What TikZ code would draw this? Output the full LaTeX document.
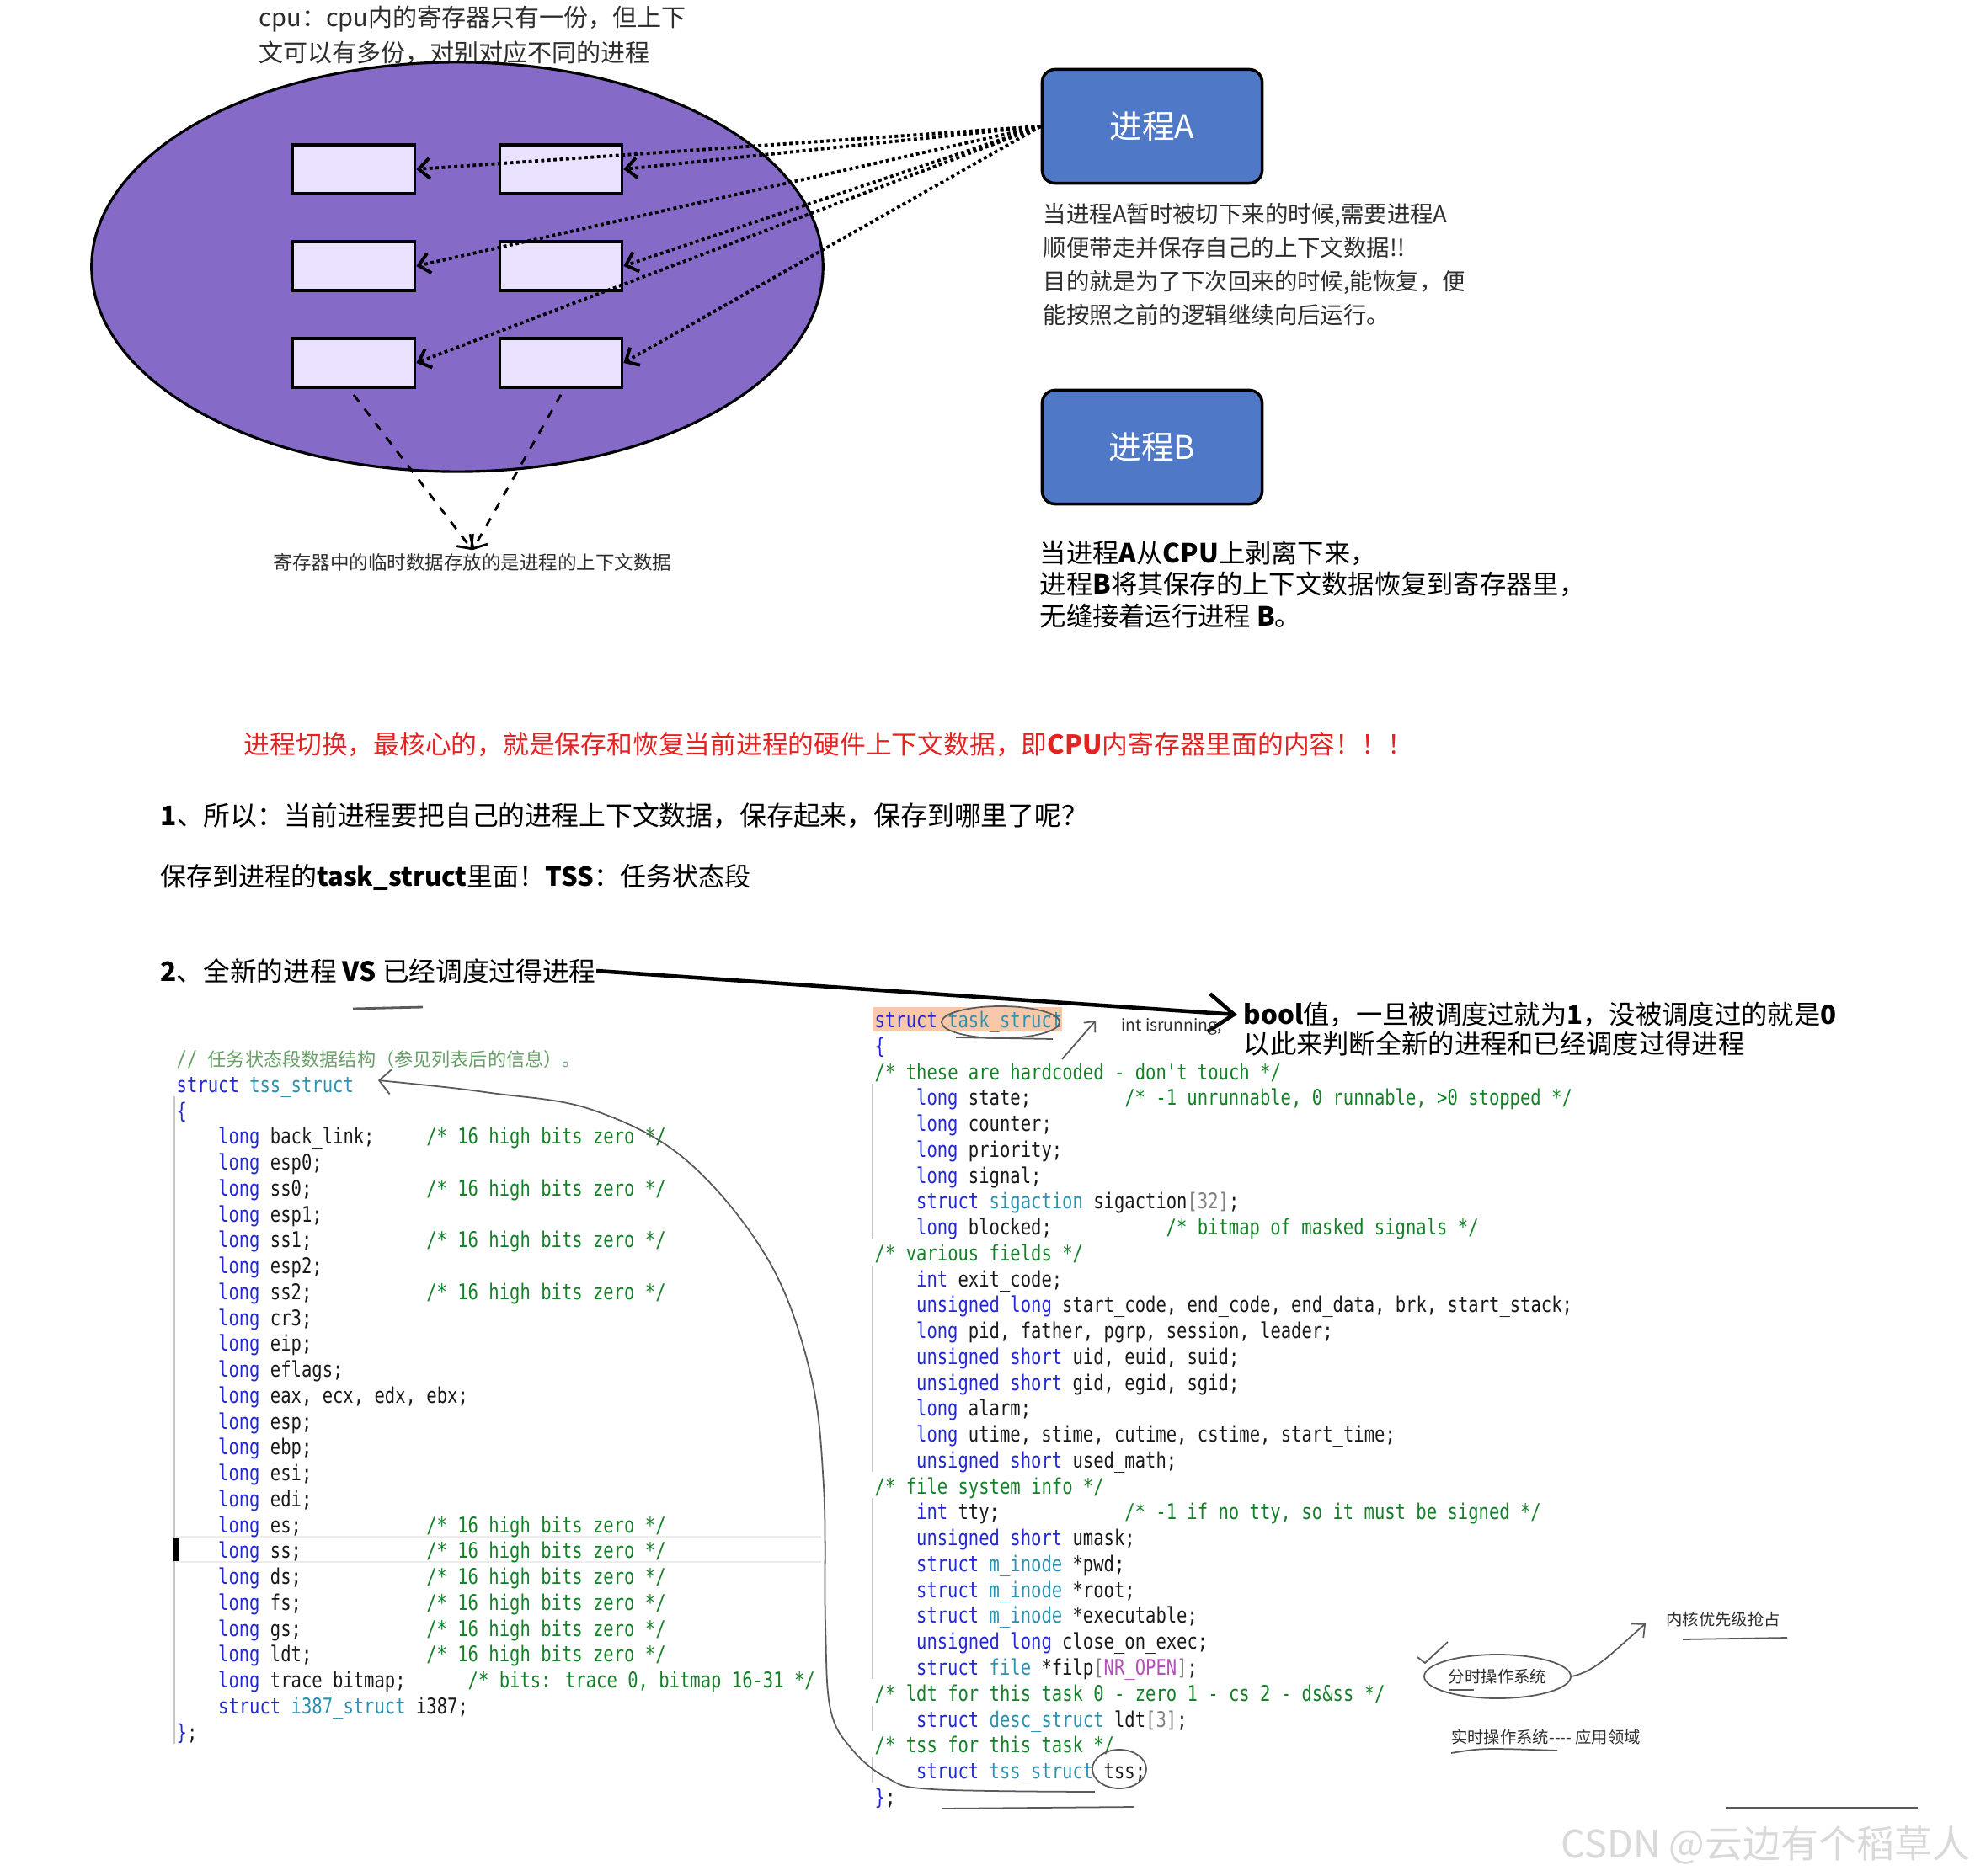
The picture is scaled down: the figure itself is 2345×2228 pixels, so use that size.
\documentclass[tikz,border=0pt]{standalone}
\usepackage{fontspec}
\setmainfont{Noto Sans CJK SC}
\newfontfamily\codefont[FakeStretch=0.8,Ligatures=TeXOff]{DejaVu Sans Mono}
\newfontfamily\cjkcode{Noto Sans CJK SC}
\usetikzlibrary{shapes.geometric}
\usetikzlibrary{arrows.meta}

\definecolor{cpuviolet}{RGB}{133,106,200}
\definecolor{regfill}{RGB}{233,225,255}
\definecolor{procblue}{RGB}{79,120,198}
\definecolor{alertred}{RGB}{228,34,34}
\definecolor{txtgray}{RGB}{45,45,45}
\definecolor{kwblue}{RGB}{35,40,215}
\definecolor{tyteal}{RGB}{43,145,175}
\definecolor{cmgreen}{RGB}{20,128,40}
\definecolor{cmlight}{RGB}{105,160,105}
\definecolor{brgray}{RGB}{130,130,130}
\definecolor{nrpink}{RGB}{180,80,185}
\definecolor{codetext}{RGB}{25,25,25}
\definecolor{hdpeach}{RGB}{248,200,170}
\definecolor{pencilgray}{RGB}{90,90,90}

\newlength\cw
\setlength\cw{0.1235cm}
\newcommand\kw[1]{\textcolor{kwblue}{#1}}
\newcommand\ty[1]{\textcolor{tyteal}{#1}}
\newcommand\cmt[1]{\textcolor{cmgreen}{#1}}
\newcommand\gy[1]{\textcolor{brgray}{#1}}
\newcommand\indt{\hspace*{4\cw}}
\newcommand\colto[2]{\makebox[#1\cw][l]{#2}}
\newcommand\hbz{\cmt{/* 16 high bits zero */}}

\begin{document}
\begin{tikzpicture}[x=0.01cm,y=0.01cm,
  reg/.style={rectangle,draw,line width=1pt,fill=regfill,minimum width=1.45cm,minimum height=0.58cm},
  proc/.style={rectangle,draw,line width=1pt,fill=procblue,rounded corners=.8ex,minimum width=2.61cm,minimum height=1.35cm,text=white,font=\fontsize{11}{13}\selectfont},
  save/.style={densely dotted,line width=1.1pt,-{Straight Barb[length=1.3mm,width=2.4mm]}},
  keep/.style={dashed,line width=0.8pt,-{Straight Barb[length=1.3mm,width=2.4mm]}},
  note/.style={anchor=west,align=left,inner sep=0pt},
  code/.style={anchor=west,inner sep=0pt,font=\codefont\fontsize{7.3}{8.75}\selectfont,text=codetext,text height=1.5ex,text depth=0.4ex},
  guide/.style={draw=gray!45,line width=0.4pt},
  pencil/.style={draw=pencilgray,line width=0.5pt},
  hand/.style={font=\fontsize{5.5}{6.5}\selectfont,text=txtgray,inner sep=1pt}
  ]

\path[use as bounding box,fill=white] (0,0) rectangle (2345,-2228);

% cpu and its registers
\node[note,font=\fontsize{8.25}{11.9}\selectfont,text=txtgray] (cpunote) at (307,-42) {cpu：cpu内的寄存器只有一份，但上下\\文可以有多份，对别对应不同的进程};
\node[ellipse,draw,line width=0.9pt,fill=cpuviolet,minimum width=8.68cm,minimum height=4.86cm,inner sep=0pt] (cpu) at (543,-317) {};

\node[reg] (r11) at (420,-201) {};
\node[reg] (r12) at (666,-201) {};
\node[reg] (r21) at (420,-316) {};
\node[reg] (r22) at (666,-316) {};
\node[reg] (r31) at (420,-431) {};
\node[reg] (r32) at (666,-431) {};

\node[proc] (pa) at (1368,-150) {进程A};
\node[proc] (pb) at (1368,-531) {进程B};

\foreach \r in {r11,r12,r21,r22,r31,r32}
  \draw[save] (pa.west) -- (\r.east);

\node[font=\fontsize{6.4}{7.5}\selectfont,text=txtgray,inner sep=1pt] (ctxlbl) at (561,-668) {寄存器中的临时数据存放的是进程的上下文数据};
\draw[keep] ([yshift=-2pt]r31.south) -- (ctxlbl.north);
\draw[keep] ([yshift=-2pt]r32.south) -- (ctxlbl.north);

% textual explanation
\node[note,font=\fontsize{7.8}{11.4}\selectfont,text=txtgray] (anote) at (1238,-314) {当进程A暂时被切下来的时候,需要进程A\\顺便带走并保存自己的上下文数据!!\\目的就是为了下次回来的时候,能恢复，便\\能按照之前的逻辑继续向后运行。};
\node[note,font=\fontsize{8.9}{10.6}\selectfont] (bnote) at (1234,-694) {当进程\textbf{A}从\textbf{CPU}上剥离下来，\\进程\textbf{B}将其保存的上下文数据恢复到寄存器里，\\无缝接着运行进程 \textbf{B}。};

\node[note,font=\fontsize{8.75}{11}\selectfont,text=alertred] (keypt) at (289,-884) {进程切换，最核心的，就是保存和恢复当前进程的硬件上下文数据，即\textbf{CPU}内寄存器里面的内容！！！};
\node[note,font=\fontsize{9.05}{11}\selectfont] (q1) at (190,-969) {\textbf{1}、所以：当前进程要把自己的进程上下文数据，保存起来，保存到哪里了呢？};
\node[note,font=\fontsize{8.8}{11}\selectfont] (q1b) at (190,-1042) {保存到进程的\textbf{task\_struct}里面！\textbf{TSS}：任务状态段};
\node[note,font=\fontsize{9}{11}\selectfont] (q2) at (190,-1153) {\textbf{2}、全新的进程 \textbf{VS} 已经调度过得进程};
\node[note,font=\fontsize{8.9}{11}\selectfont] (bool1) at (1476,-1205) {\textbf{bool}值，一旦被调度过就为\textbf{1}，没被调度过的就是\textbf{0}};
\node[note,font=\fontsize{8.9}{11}\selectfont] (bool2) at (1476,-1240) {以此来判断全新的进程和已经调度过得进程};
\draw[line width=1.3pt,-{Straight Barb[length=3mm,width=4.5mm]}] (q2.east) -- ([xshift=-2pt]bool1.west);
\draw[pencil,line width=0.8pt] (419,-1198) -- (502,-1196);

% tss_struct listing
\draw[guide] (207,-1302) -- (207,-2071);
\draw[draw=gray!15,line width=0.8pt] (209,-1825) -- (975,-1825) (209,-1855) -- (975,-1855);
\draw[line width=1.6pt] (209,-1826) -- (209,-1854);
\foreach \ln [count=\k from 0] in {
  {\textcolor{cmlight}{// {\cjkcode\fontsize{6.3}{8}\selectfont 任务状态段数据结构（参见列表后的信息）。}}},
  {\kw{struct} \ty{tss\_struct}},
  {\kw{\{}},
  {\colto{24}{\indt\kw{long} back\_link;}\hbz},
  {\indt\kw{long} esp0;},
  {\colto{24}{\indt\kw{long} ss0;}\hbz},
  {\indt\kw{long} esp1;},
  {\colto{24}{\indt\kw{long} ss1;}\hbz},
  {\indt\kw{long} esp2;},
  {\colto{24}{\indt\kw{long} ss2;}\hbz},
  {\indt\kw{long} cr3;},
  {\indt\kw{long} eip;},
  {\indt\kw{long} eflags;},
  {\indt\kw{long} eax, ecx, edx, ebx;},
  {\indt\kw{long} esp;},
  {\indt\kw{long} ebp;},
  {\indt\kw{long} esi;},
  {\indt\kw{long} edi;},
  {\colto{24}{\indt\kw{long} es;}\hbz},
  {\colto{24}{\indt\kw{long} ss;}\hbz},
  {\colto{24}{\indt\kw{long} ds;}\hbz},
  {\colto{24}{\indt\kw{long} fs;}\hbz},
  {\colto{24}{\indt\kw{long} gs;}\hbz},
  {\colto{24}{\indt\kw{long} ldt;}\hbz},
  {\colto{28}{\indt\kw{long} trace\_bitmap;}\cmt{/* bits: trace 0, bitmap 16-31 */}},
  {\indt\kw{struct} \ty{i387\_struct} i387;},
  {\kw{\}};}}
  \node[code] (tss-\k) at (209,{-1256-30.76*\k}) {\ln};

% task_struct listing
\fill[hdpeach] (1036,-1196) rectangle (1261,-1225);
\foreach \a/\b in {3/8,10/17,19/25,27/27,29/29}
  \draw[guide] (1036,{-1195-30.76*\a}) -- (1036,{-1225-30.76*\b});
\foreach \ln [count=\k from 0] in {
  {\kw{struct} \ty{task\_struct}},
  {\kw{\{}},
  {\cmt{/* these are hardcoded - don't touch */}},
  {\colto{24}{\indt\kw{long} state;}\cmt{/* -1 unrunnable, 0 runnable, >0 stopped */}},
  {\indt\kw{long} counter;},
  {\indt\kw{long} priority;},
  {\indt\kw{long} signal;},
  {\indt\kw{struct} \ty{sigaction} sigaction\gy{[32]};},
  {\colto{28}{\indt\kw{long} blocked;}\cmt{/* bitmap of masked signals */}},
  {\cmt{/* various fields */}},
  {\indt\kw{int} exit\_code;},
  {\indt\kw{unsigned long} start\_code, end\_code, end\_data, brk, start\_stack;},
  {\indt\kw{long} pid, father, pgrp, session, leader;},
  {\indt\kw{unsigned short} uid, euid, suid;},
  {\indt\kw{unsigned short} gid, egid, sgid;},
  {\indt\kw{long} alarm;},
  {\indt\kw{long} utime, stime, cutime, cstime, start\_time;},
  {\indt\kw{unsigned short} used\_math;},
  {\cmt{/* file system info */}},
  {\colto{24}{\indt\kw{int} tty;}\cmt{/* -1 if no tty, so it must be signed */}},
  {\indt\kw{unsigned short} umask;},
  {\indt\kw{struct} \ty{m\_inode} *pwd;},
  {\indt\kw{struct} \ty{m\_inode} *root;},
  {\indt\kw{struct} \ty{m\_inode} *executable;},
  {\indt\kw{unsigned long} close\_on\_exec;},
  {\indt\kw{struct} \ty{file} *filp\gy{[}\textcolor{nrpink}{NR\_OPEN}\gy{]};},
  {\cmt{/* ldt for this task 0 - zero 1 - cs 2 - ds\&ss */}},
  {\indt\kw{struct} \ty{desc\_struct} ldt\gy{[3]};},
  {\cmt{/* tss for this task */}},
  {\indt\kw{struct} \ty{tss\_struct} tss;},
  {\kw{\}};}}
  \node[code] (task-\k) at (1038,{-1210-30.76*\k}) {\ln};

% pencil notes
\node[pencil,ellipse,minimum width=1.4cm,minimum height=0.38cm,inner sep=0pt] (hdcirc) at (1188,-1214) {};
\draw[pencil] (1135,-1232) -- (1250,-1234);
\node[hand] (isrun) at (1391,-1219) {int isrunning;};
\draw[pencil,-{Straight Barb[length=1mm,width=1.8mm]}] (1261,-1258) -- (1301,-1212);

\node[pencil,ellipse,minimum width=0.64cm,minimum height=0.46cm,inner sep=0pt] (tsscirc) at (1329,-2101) {};
\draw[pencil,{Straight Barb[length=1.4mm,width=3mm]}-] plot[smooth,tension=0.6] coordinates {(449,-1283) (583,-1298) (703,-1318) (815,-1378) (912,-1496) (962,-1630) (978,-1765) (980,-1929) (986,-2030) (1012,-2078) (1054,-2112) (1107,-2125) (1300,-2128)};
\draw[pencil] (1118,-2148) -- (1347,-2146);

\node[pencil,ellipse,minimum width=1.6cm,minimum height=0.52cm,inner sep=0pt,hand] (timeshare) at (1778,-1991) {分时操作系统};
\draw[pencil] (1683,-1968) -- (1692,-1975) -- (1719,-1950);
\draw[pencil] (1721,-2007) -- (1750,-2007);
\node[hand] (preempt) at (2046,-1923) {内核优先级抢占};
\draw[pencil] (1998,-1947) -- (2122,-1945);
\draw[pencil,-{Straight Barb[length=1.2mm,width=2.2mm]}] (timeshare.east) .. controls (1895,-1985) and (1915,-1962) .. ([xshift=-0.2cm,yshift=-0.05cm]preempt.west);
\node[hand,anchor=west] (realtime) at (1719,-2063) {实时操作系统{-}{-}{-}{-} 应用领域};
\draw[pencil] (1723,-2082) .. controls (1760,-2076) .. (1849,-2079);
\draw[pencil] (2049,-2147) -- (2277,-2147);

\node[font=\fontsize{12.8}{15}\selectfont,text=gray!30,anchor=east,inner sep=0pt] (mark) at (2340,-2191) {CSDN @云边有个稻草人};

\end{tikzpicture}
\end{document}
